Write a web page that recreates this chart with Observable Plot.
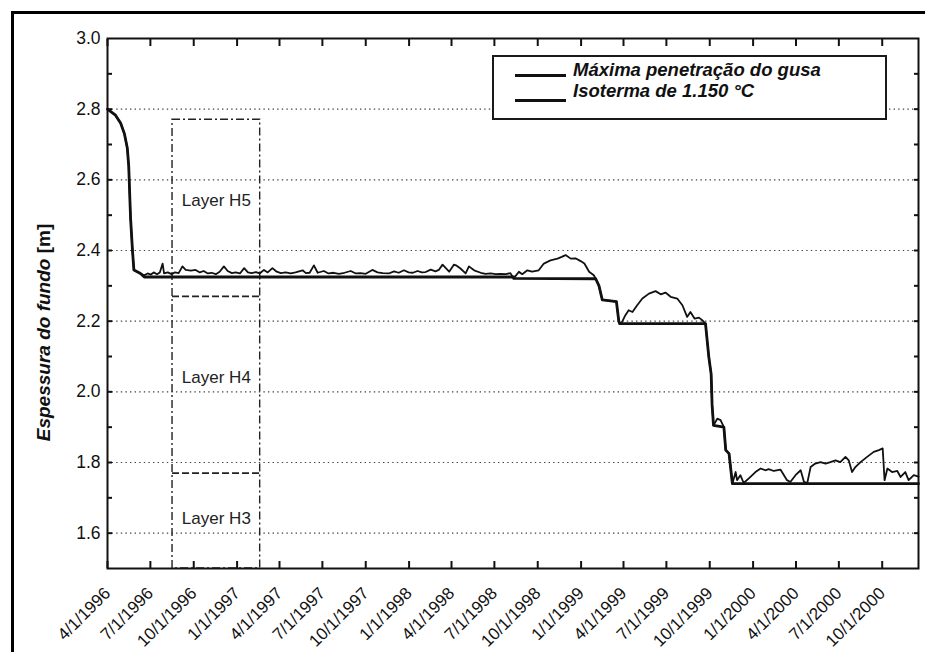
<!DOCTYPE html>
<html>
<head>
<meta charset="utf-8">
<script src="https://cdn.jsdelivr.net/npm/d3@7"></script>
<script src="https://cdn.jsdelivr.net/npm/@observablehq/plot@0.6"></script>
<style>
  html, body { margin: 0; padding: 0; background: #fff; overflow: hidden; }
  #wrap { position: relative; width: 925px; height: 652px; }
  #frame { position: absolute; left: 11px; top: 11px; width: 960px; height: 700px; border: 3px solid #000; pointer-events: none; }
  #legend { position: absolute; left: 492px; top: 55px; width: 391px; height: 61px; border: 2px solid #1a1a1a; background: #fff; }
  .swatch { position: absolute; left: 515px; width: 51px; background: #111; }
  .ltext { position: absolute; left: 573px; font: italic bold 18.5px/18px "Liberation Sans", Arial, Helvetica, sans-serif; color: #111; white-space: nowrap; }
</style>
</head>
<body>
<div id="wrap">
  <div id="chart"></div>
  <div id="legend"></div>
  <div class="swatch" style="top:73.5px;height:3.5px"></div>
  <div class="ltext" id="leg1" style="top:61px"></div>
  <div class="swatch" style="top:99px;height:3px"></div>
  <div class="ltext" id="leg2" style="top:82px"></div>
  <div id="frame"></div>
</div>
<script>
// Series names
const seriesNames = ["Máxima penetração do gusa", "Isoterma de 1.150 °C"];

// Maximum penetration (stepwise envelope)
const penetrationDates = [
  "1996-04-01","1996-04-18","1996-04-29","1996-05-07","1996-05-13","1996-05-16","1996-05-20",
  "1996-05-24","1996-05-27","1996-06-10","1996-06-18","1998-08-11","1998-08-11","1999-02-01",
  "1999-02-08","1999-02-15","1999-03-17","1999-03-22","1999-03-24","1999-09-22","1999-09-29",
  "1999-10-04","1999-10-06","1999-10-09","1999-10-31","1999-11-04","1999-11-11","1999-11-18",
  "2000-12-17"
];
const penetrationValues = [
  2.80, 2.783, 2.76, 2.73, 2.69, 2.64, 2.49,
  2.40, 2.345, 2.335, 2.325, 2.325, 2.321, 2.32,
  2.30, 2.26, 2.255, 2.20, 2.193, 2.193, 2.099,
  2.05, 1.963, 1.905, 1.90, 1.835, 1.825, 1.74,
  1.74
];

// 1150 °C isotherm
const isothermDates = [
  "1996-04-01","1996-04-18","1996-04-29","1996-05-07","1996-05-13","1996-05-16","1996-05-20","1996-05-24",
  "1996-05-27","1996-06-10","1996-06-18","1996-06-25","1996-07-02","1996-07-08","1996-07-15","1996-07-21",
  "1996-07-27","1996-07-30","1996-08-07","1996-08-15","1996-08-22","1996-08-30","1996-09-07","1996-09-14",
  "1996-09-25","1996-10-05","1996-10-14","1996-10-22","1996-10-31","1996-11-08","1996-11-17","1996-11-25",
  "1996-12-04","1996-12-12","1996-12-21","1996-12-29","1997-01-07","1997-01-16","1997-01-24","1997-02-01",
  "1997-02-10","1997-02-18","1997-02-27","1997-03-07","1997-03-17","1997-03-26","1997-04-04","1997-04-14",
  "1997-04-25","1997-05-05","1997-05-20","1997-05-27","1997-06-04","1997-06-13","1997-06-21","1997-07-04",
  "1997-07-14","1997-07-25","1997-08-05","1997-08-17","1997-08-30","1997-09-10","1997-09-20","1997-10-01",
  "1997-10-15","1997-10-26","1997-11-06","1997-11-19","1997-11-30","1997-12-10","1997-12-21","1997-12-31",
  "1998-01-09","1998-01-19","1998-01-28","1998-02-05","1998-02-16","1998-02-26","1998-03-05","1998-03-13",
  "1998-03-20","1998-03-27","1998-04-06","1998-04-12","1998-04-20","1998-05-01","1998-05-08","1998-05-19",
  "1998-06-02","1998-06-12","1998-06-23","1998-07-04","1998-07-14","1998-07-25","1998-08-04","1998-08-11",
  "1998-08-22","1998-08-29","1998-09-09","1998-09-19","1998-10-03","1998-10-14","1998-10-28","1998-11-12",
  "1998-11-21","1998-11-29","1998-12-10","1998-12-20","1998-12-31","1999-01-08","1999-01-18","1999-01-28",
  "1999-02-01","1999-02-08","1999-02-15","1999-03-02","1999-03-17","1999-03-22","1999-03-24","1999-03-29",
  "1999-04-05","1999-04-12","1999-04-20","1999-04-30","1999-05-11","1999-05-25","1999-06-08","1999-06-19",
  "1999-06-29","1999-07-10","1999-07-24","1999-08-04","1999-08-14","1999-08-21","1999-08-30","1999-09-08",
  "1999-09-15","1999-09-22","1999-09-29","1999-10-04","1999-10-06","1999-10-09","1999-10-17","1999-10-24",
  "1999-10-31","1999-11-04","1999-11-11","1999-11-18","1999-11-25","1999-11-28","1999-12-05","1999-12-12",
  "1999-12-23","2000-01-06","2000-01-17","2000-01-27","2000-02-03","2000-02-14","2000-02-28","2000-03-13",
  "2000-03-20","2000-03-31","2000-04-11","2000-04-18","2000-04-25","2000-05-02","2000-05-12","2000-05-23",
  "2000-06-03","2000-06-13","2000-06-24","2000-07-04","2000-07-15","2000-07-22","2000-07-29","2000-08-05",
  "2000-08-16","2000-08-30","2000-09-13","2000-09-24","2000-10-02","2000-10-06","2000-10-12","2000-10-22",
  "2000-11-02","2000-11-09","2000-11-19","2000-11-26","2000-12-07","2000-12-17"
];
const isothermValues = [
  2.80, 2.783, 2.76, 2.73, 2.69, 2.64, 2.49, 2.40,
  2.345, 2.335, 2.33, 2.335, 2.332, 2.338, 2.333, 2.338,
  2.363, 2.335, 2.338, 2.333, 2.338, 2.336, 2.355, 2.345,
  2.343, 2.345, 2.338, 2.342, 2.335, 2.337, 2.333, 2.34,
  2.355, 2.342, 2.336, 2.338, 2.335, 2.35, 2.338, 2.336,
  2.339, 2.335, 2.345, 2.338, 2.35, 2.34, 2.336, 2.338,
  2.335, 2.338, 2.344, 2.336, 2.337, 2.358, 2.337, 2.342,
  2.335, 2.337, 2.334, 2.337, 2.342, 2.335, 2.336, 2.334,
  2.345, 2.338, 2.336, 2.335, 2.341, 2.337, 2.344, 2.338,
  2.337, 2.342, 2.338, 2.339, 2.346, 2.341, 2.345, 2.36,
  2.35, 2.34, 2.36, 2.357, 2.349, 2.335, 2.355, 2.344,
  2.337, 2.334, 2.335, 2.333, 2.334, 2.333, 2.336, 2.321,
  2.340, 2.333, 2.344, 2.340, 2.344, 2.363, 2.372, 2.377,
  2.382, 2.387, 2.377, 2.378, 2.370, 2.363, 2.34, 2.330,
  2.32, 2.30, 2.26, 2.258, 2.255, 2.20, 2.193, 2.198,
  2.217, 2.231, 2.226, 2.245, 2.264, 2.278, 2.285, 2.276,
  2.281, 2.269, 2.264, 2.245, 2.212, 2.226, 2.207, 2.21,
  2.203, 2.193, 2.099, 2.05, 1.963, 1.905, 1.924, 1.92,
  1.90, 1.835, 1.825, 1.74, 1.773, 1.75, 1.764, 1.742,
  1.755, 1.773, 1.783, 1.778, 1.781, 1.776, 1.78, 1.75,
  1.745, 1.764, 1.778, 1.745, 1.742, 1.787, 1.797, 1.801,
  1.797, 1.801, 1.806, 1.801, 1.816, 1.806, 1.773, 1.787,
  1.801, 1.816, 1.83, 1.835, 1.84, 1.75, 1.783, 1.773,
  1.776, 1.759, 1.773, 1.75, 1.764, 1.76
];

// Axis ticks and labels
const xTickLabels = [
  "4/1/1996","7/1/1996","10/1/1996","1/1/1997","4/1/1997","7/1/1997","10/1/1997",
  "1/1/1998","4/1/1998","7/1/1998","10/1/1998","1/1/1999","4/1/1999","7/1/1999",
  "10/1/1999","1/1/2000","4/1/2000","7/1/2000","10/1/2000"
];
const yTickLabels = ["1.6","1.8","2.0","2.2","2.4","2.6","2.8","3.0"];
const yMinorTicks = [1.6,1.7,1.8,1.9,2.0,2.1,2.2,2.3,2.4,2.5,2.6,2.7,2.8,2.9];
const xDomain = ["1996-04-01", "2000-12-17"];
const yDomain = [1.5, 3.0];
const yTitle = "Espessura do fundo";
const yUnit = "[m]";

// Refractory layers of the hearth
const layerNames = ["Layer H5", "Layer H4", "Layer H3"];
const layerLabelValues = [2.54, 2.04, 1.64];
const layerBoundaries = [2.27, 1.77];
const layerBoxTop = 2.77;
const layerBoxDates = ["1996-08-17", "1997-02-19"];

const mdy = s => { const [m, d, y] = s.split("/").map(Number); return new Date(Date.UTC(y, m - 1, d)); };
const xTicks = xTickLabels.map(mdy);
const labelOf = new Map(xTicks.map((d, i) => [+d, xTickLabels[i]]));
const yTicks = yTickLabels.map(Number);

const toRows = (dates, values) => dates.map((d, i) => ({date: new Date(d), value: values[i]}));
const penetration = toRows(penetrationDates, penetrationValues);
const isotherm = toRows(isothermDates, isothermValues);

const boxX1 = new Date(layerBoxDates[0]);
const boxX2 = new Date(layerBoxDates[1]);
const boxMid = new Date((+boxX1 + +boxX2) / 2);
const layerLabels = layerNames.map((name, i) => ({name, value: layerLabelValues[i]}));

const font = "'Liberation Sans', Arial, Helvetica, sans-serif";
const ink = "#111";

const chart = Plot.plot({
  width: 925,
  height: 652,
  marginLeft: 107,
  marginTop: 38,
  marginRight: 7,
  marginBottom: 84,
  style: {fontFamily: font, color: ink, background: "transparent"},
  x: {type: "utc", domain: xDomain.map(d => new Date(d))},
  y: {domain: yDomain},
  marks: [
    Plot.gridY({ticks: yTicks.filter(v => v < 3), stroke: "#222", strokeOpacity: 0.85, strokeWidth: 1.2, strokeDasharray: "1.4,3.2"}),
    // layer box (dash-dot) and dashed layer boundaries
    Plot.rect([{x1: boxX1, x2: boxX2, y1: yDomain[0], y2: layerBoxTop}], {
      x1: "x1", x2: "x2", y1: "y1", y2: "y2", fill: "none", stroke: "#222", strokeWidth: 1.4, strokeDasharray: "8,3,2,3"
    }),
    Plot.ruleY(layerBoundaries, {x1: boxX1, x2: boxX2, stroke: "#222", strokeWidth: 1.8, strokeDasharray: "7,3"}),
    Plot.text(layerLabels, {x: boxMid, y: "value", text: "name", fontSize: 17, fill: "#222"}),
    // series
    Plot.line(isotherm, {x: "date", y: "value", stroke: ink, strokeWidth: 1.8, strokeLinejoin: "round"}),
    Plot.line(penetration, {x: "date", y: "value", stroke: ink, strokeWidth: 2.8, strokeLinejoin: "round"}),
    Plot.frame({stroke: ink, strokeWidth: 2}),
    // inward ticks on all four sides
    Plot.axisX({anchor: "bottom", ticks: xTicks, tickSize: 7, dy: -7, tickFormat: () => "", label: null, stroke: ink, strokeWidth: 2}),
    Plot.axisX({anchor: "top", ticks: xTicks, tickSize: 7, dy: 7, tickFormat: () => "", label: null, stroke: ink, strokeWidth: 2}),
    Plot.axisY({anchor: "left", ticks: yMinorTicks, tickSize: 5, dx: 5, tickFormat: () => "", label: null, stroke: ink, strokeWidth: 2}),
    Plot.axisY({anchor: "right", ticks: yMinorTicks, tickSize: 5, dx: -5, tickFormat: () => "", label: null, stroke: ink, strokeWidth: 2}),
    // tick labels
    Plot.axisY({anchor: "left", ticks: yTicks, tickSize: 0, tickPadding: 7, fontSize: 17.5, tickFormat: d => d.toFixed(1), label: null}),
    Plot.axisX({anchor: "bottom", ticks: xTicks, tickSize: 0, tickPadding: 22, dx: 0, tickRotate: -45, fontSize: 17,
      tickFormat: d => labelOf.get(+d), label: null}),
    Plot.text([yTitle], {frameAnchor: "left", dx: -64, dy: 29, rotate: -90, textAnchor: "middle", text: d => d,
      fontSize: 19, fontWeight: "bold"})
  ]
});
document.getElementById("chart").append(chart);

// axis title: italic words followed by the upright unit
const svgNS = "http://www.w3.org/2000/svg";
const titleNode = [...chart.querySelectorAll("text")].find(n => n.textContent === yTitle);
if (titleNode) {
  titleNode.textContent = "";
  const words = document.createElementNS(svgNS, "tspan");
  words.setAttribute("font-style", "italic");
  words.textContent = yTitle + " ";
  const unit = document.createElementNS(svgNS, "tspan");
  unit.setAttribute("font-style", "normal");
  unit.textContent = yUnit;
  titleNode.append(words, unit);
}
document.getElementById("leg1").textContent = seriesNames[0];
document.getElementById("leg2").textContent = seriesNames[1];
</script>
</body>
</html>
